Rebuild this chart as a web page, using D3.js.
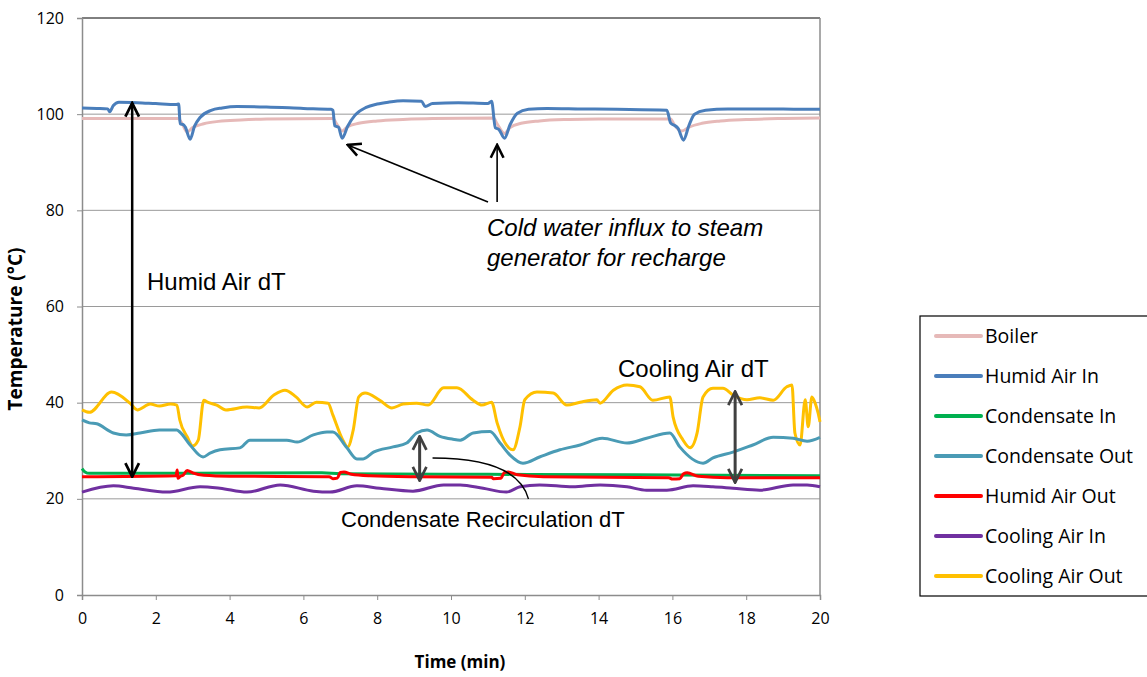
<!DOCTYPE html>
<html lang="en">
<head>
  <meta charset="UTF-8">
  <title>Temperature vs Time</title>
  <script src="https://cdn.jsdelivr.net/npm/d3@7.8.5/dist/d3.min.js"></script>
  <style>
    body { margin: 0; background: #fff; }
    svg { display: block; }
    .tick text { font-family: 'Open Sans', sans-serif; font-size: 16px; fill: #000; }
    .note { font-family: 'Liberation Sans', Arial, sans-serif; font-size: 24px; fill: #000; }
  </style>
</head>
<body>
  <svg id="chart" width="1147" height="677"></svg>
  <script>
    // series data: [time (min), temperature (°C)]
    const boiler = [[0,99.1],[2.6,99.1],[2.7,98.2],[2.85,96.3],[3.0,97.2],[3.3,98.0],[3.7,98.5],[4.3,98.8],[5,99],[6.8,99.1],[6.9,98],[7.05,96.5],[7.2,97.4],[7.5,98.1],[8,98.6],[8.7,98.9],[9.5,99.1],[11.15,99.2],[11.25,98],[11.45,96],[11.6,97.2],[11.9,98.1],[12.4,98.6],[13.2,98.9],[14,99],[15.95,99],[16.05,97.8],[16.25,96.5],[16.45,97.3],[16.8,98.1],[17.3,98.6],[18,98.9],[19,99.1],[20,99.2]];
    const humidIn = [[0,101.3],[0.4,101.2],[0.7,101.1],[0.75,100.5],[0.85,101.8],[1.0,102.5],[1.5,102.4],[2,102.2],[2.55,102],[2.62,102.1],[2.66,98],[2.75,97.8],[2.8,97.3],[2.93,94.8],[3.05,97.5],[3.2,99.3],[3.5,100.8],[3.8,101.3],[4.2,101.6],[5,101.5],[6,101.2],[6.75,101],[6.8,100.8],[6.85,97.6],[6.95,97.3],[7.05,95],[7.2,97.5],[7.4,99.8],[7.7,101.4],[8.0,102.1],[8.3,102.5],[8.7,102.8],[9.2,102.7],[9.3,101.6],[9.5,102.2],[10.2,102.4],[11,102.2],[11.1,102.7],[11.2,97.2],[11.3,96.8],[11.45,95],[11.6,97.8],[11.8,100.2],[12.1,101],[12.6,101.2],[13.5,101.1],[14.5,101],[15.85,100.8],[15.95,98.2],[16.05,97.7],[16.15,97.1],[16.3,94.6],[16.45,97.7],[16.6,100],[16.9,100.8],[17.5,101.1],[18.5,101.1],[19.5,101],[20,101]];
    const condIn = [[0,26.3],[0.08,25.6],[0.2,25.3],[3,25.3],[6.5,25.4],[7,25.2],[11,25.1],[15,25],[20,24.8]];
    const condOut = [[0,36.4],[0.2,35.8],[0.4,35.6],[0.85,33.7],[1.2,33.3],[1.57,33.7],[2.1,34.3],[2.57,34.3],[2.65,33.9],[2.93,31.2],[3.28,28.7],[3.47,29.5],[3.74,30.2],[4.28,30.6],[4.55,32.2],[5.0,32.2],[5.55,32.2],[5.83,31.8],[6.27,33.3],[6.64,33.9],[6.8,33.9],[7.18,30.6],[7.45,28.3],[7.62,28.3],[7.9,29.7],[8.43,30.8],[8.8,31.6],[9.07,33.7],[9.35,34.3],[9.7,33],[10.05,32.4],[10.25,32.2],[10.6,33.7],[11.06,34],[11.33,31.6],[11.6,29.1],[11.95,27.4],[12.4,28.7],[12.95,30.2],[13.5,31.2],[14.1,32.6],[14.77,31.6],[15.3,32.6],[15.93,33.7],[16.2,30.8],[16.83,27.4],[17.1,28.5],[17.64,29.7],[18.18,31.2],[18.73,32.8],[19.27,32.6],[19.65,32],[20,32.8]];
    const humidOut = [[0,24.6],[2.55,24.8],[2.58,26],[2.6,24.3],[2.65,24.6],[2.75,25],[2.85,25.9],[3.0,25.4],[3.3,24.9],[4,24.7],[6.7,24.6],[6.8,24.2],[6.92,24.3],[7.0,25.5],[7.1,25.6],[7.3,25.1],[7.8,24.8],[9,24.6],[11.1,24.5],[11.15,24.2],[11.35,24.3],[11.45,25.5],[11.55,25.6],[11.8,25],[12.5,24.6],[15.9,24.4],[16.0,24.1],[16.2,24.2],[16.3,25.2],[16.4,25.4],[16.7,24.7],[17.5,24.4],[20,24.4]];
    const coolIn = [[0,21.4],[0.85,22.7],[1.4,22.2],[2.3,21.4],[3.2,22.5],[3.74,22.2],[4.47,21.4],[5.37,22.9],[6.27,21.6],[6.72,21.4],[7.45,22.7],[8.07,22.2],[8.97,21.6],[9.8,22.9],[10.25,22.9],[10.87,22.2],[11.5,21.4],[11.87,22.5],[12.4,22.9],[13.3,22.5],[14.04,22.9],[14.77,22.5],[15.3,21.8],[15.85,21.8],[16.56,22.7],[17.1,22.5],[17.64,22.2],[18.37,21.8],[19.27,22.9],[19.65,22.9],[20,22.5]];
    const coolOut = [[0,38.5],[0.2,38],[0.8,42.2],[1.3,39.9],[1.5,38.5],[1.85,39.7],[2.1,39.3],[2.4,39.7],[2.57,39.5],[2.65,36.4],[2.85,32.9],[3.0,31],[3.15,32.2],[3.3,40.5],[3.4,40.1],[3.65,39.5],[3.9,38.5],[4.47,39.1],[4.8,38.9],[5.2,41.6],[5.5,42.6],[5.8,41.2],[6.1,39.1],[6.35,40.1],[6.67,39.9],[6.8,37.4],[7.07,32.2],[7.2,30.8],[7.35,34.3],[7.5,41.2],[7.67,42],[8.07,40.5],[8.4,38.9],[8.7,39.7],[9.07,39.9],[9.38,39.5],[9.8,43.1],[10.16,43.1],[10.6,40.5],[10.84,39.5],[11.1,40.1],[11.25,35.8],[11.5,31.2],[11.68,30.2],[11.87,35],[12.0,40.6],[12.33,42.2],[12.77,42],[13.14,39.5],[13.5,40.1],[13.95,40.6],[14.04,39.9],[14.4,42.6],[14.77,43.7],[15.12,43.3],[15.47,40.5],[15.93,41.2],[16.02,37],[16.29,32.2],[16.48,30.6],[16.67,33.7],[16.83,41.2],[17.1,43],[17.37,43],[17.64,41.6],[18.02,40.6],[18.37,41],[18.73,40.5],[19.1,43.3],[19.24,43.7],[19.32,33.7],[19.46,31.2],[19.6,40.6],[19.68,35],[19.78,41.2],[19.87,39.9],[19.95,37.8],[20,36]];

    const seriesNames = ["Boiler", "Humid Air In", "Condensate In", "Condensate Out", "Humid Air Out", "Cooling Air In", "Cooling Air Out"];
    const seriesData = [boiler, humidIn, condIn, condOut, humidOut, coolIn, coolOut];
    const seriesColors = ["#e6b9b8", "#4a7ebb", "#00b050", "#4a9bb5", "#ff0000", "#7030a0", "#ffc000"];
    const xTicks = [0, 2, 4, 6, 8, 10, 12, 14, 16, 18, 20];
    const yTicks = [0, 20, 40, 60, 80, 100, 120];

    const svg = d3.select("#chart");
    const pl = 82, pr = 820, pt = 18, pb = 595;

    const x = d3.scaleLinear().domain([0, 20]).range([pl, pr]);
    const y = d3.scaleLinear().domain([0, 120]).range([pb, pt]);

    // gridlines
    svg.append("g")
      .selectAll("line")
      .data(yTicks.filter(d => d > 0))
      .enter()
      .append("line")
      .attr("x1", pl).attr("x2", pr)
      .attr("y1", d => y(d)).attr("y2", d => y(d))
      .attr("stroke", d => d === 120 ? "#000" : "#9a9a9a")
      .attr("stroke-width", 1);
    svg.append("line")
      .attr("x1", pr).attr("x2", pr).attr("y1", pt).attr("y2", pb)
      .attr("stroke", "#8c8c8c").attr("stroke-width", 1.5);

    // axes
    const yAxis = svg.append("g")
      .attr("transform", `translate(${pl},0)`)
      .call(d3.axisLeft(y).tickValues(yTicks).tickSize(5).tickPadding(13));
    const xAxis = svg.append("g")
      .attr("transform", `translate(0,${pb})`)
      .call(d3.axisBottom(x).tickValues(xTicks).tickSize(5).tickPadding(13));
    [xAxis, yAxis].forEach(a => {
      a.select(".domain").attr("stroke", "#8c8c8c").attr("stroke-width", 1.5);
      a.selectAll(".tick line").attr("stroke", "#8c8c8c");
    });

    svg.append("text")
      .attr("transform", "translate(22,329) rotate(-90)")
      .attr("text-anchor", "middle")
      .attr("font-family", "'Open Sans', sans-serif")
      .attr("font-weight", "bold")
      .attr("font-size", 19)
      .text("Temperature (°C)");
    svg.append("text")
      .attr("x", 460).attr("y", 668)
      .attr("text-anchor", "middle")
      .attr("font-family", "'Open Sans', sans-serif")
      .attr("font-weight", "bold")
      .attr("font-size", 17)
      .text("Time (min)");

    // lines
    const line = d3.line().x(d => x(d[0])).y(d => y(d[1])).curve(d3.curveMonotoneX);
    const drawOrder = [0, 1, 6, 3, 2, 4, 5];
    svg.append("g")
      .selectAll("path")
      .data(drawOrder)
      .enter()
      .append("path")
      .attr("d", i => line(seriesData[i]))
      .attr("fill", "none")
      .attr("stroke", i => seriesColors[i])
      .attr("stroke-width", 3)
      .attr("stroke-linejoin", "round");

    // annotations
    const defs = svg.append("defs");
    function marker(id, color, size) {
      defs.append("marker")
        .attr("id", id)
        .attr("viewBox", "0 0 10 10")
        .attr("refX", 9).attr("refY", 5)
        .attr("markerWidth", size).attr("markerHeight", size)
        .attr("markerUnits", "userSpaceOnUse")
        .attr("orient", "auto-start-reverse")
        .append("path")
        .attr("d", "M1,1 L9,5 L1,9")
        .attr("fill", "none")
        .attr("stroke", color)
        .attr("stroke-width", 1.6);
    }
    marker("blk", "#000", 17);
    marker("gry", "#404040", 17);
    marker("thin", "#000", 16);

    function dblArrow(t, v0, v1, id, color, w) {
      svg.append("line")
        .attr("x1", x(t)).attr("x2", x(t))
        .attr("y1", y(v0)).attr("y2", y(v1))
        .attr("stroke", color).attr("stroke-width", w)
        .attr("marker-start", `url(#${id})`)
        .attr("marker-end", `url(#${id})`);
    }
    dblArrow(1.36, 102.3, 24.6, "blk", "#000", 2.5);
    dblArrow(17.7, 42.3, 23.4, "gry", "#404040", 3);
    dblArrow(9.15, 33.0, 23.8, "gry", "#404040", 3);

    // arrows to the recharge dips
    svg.append("line")
      .attr("x1", 488).attr("y1", 202).attr("x2", x(7.2)).attr("y2", y(93.6))
      .attr("stroke", "#000").attr("stroke-width", 1.6).attr("marker-end", "url(#thin)");
    svg.append("line")
      .attr("x1", x(11.25)).attr("y1", 202).attr("x2", x(11.25)).attr("y2", y(93.6))
      .attr("stroke", "#000").attr("stroke-width", 1.6).attr("marker-end", "url(#thin)");

    // leader line for condensate recirculation
    svg.append("path")
      .attr("d", `M${x(9.5)},458 Q${x(11.8)},458 ${x(12.1)},499`)
      .attr("fill", "none").attr("stroke", "#000").attr("stroke-width", 1.3);

    svg.append("text").attr("class", "note").attr("x", 147).attr("y", 290).text("Humid Air dT");
    svg.append("text").attr("class", "note").attr("x", 618).attr("y", 377).text("Cooling Air dT");
    svg.append("text").attr("class", "note").attr("x", 341).attr("y", 527)
      .style("font-size", "22px").text("Condensate Recirculation dT");
    const cold = svg.append("text").attr("class", "note").attr("font-style", "italic");
    cold.append("tspan").attr("x", 487).attr("y", 236).text("Cold water influx to steam");
    cold.append("tspan").attr("x", 487).attr("y", 266).text("generator for recharge");

    // legend
    const lg = svg.append("g").attr("transform", "translate(920,316)");
    lg.append("rect").attr("width", 240).attr("height", 280)
      .attr("fill", "#fff").attr("stroke", "#000").attr("stroke-width", 1.2);
    const item = lg.selectAll("g.item")
      .data(seriesNames)
      .enter()
      .append("g")
      .attr("transform", (d, i) => `translate(0,${20 + i * 40})`);
    item.append("line")
      .attr("x1", 16).attr("x2", 61)
      .attr("stroke", (d, i) => seriesColors[i])
      .attr("stroke-width", 4)
      .attr("stroke-linecap", "round");
    item.append("text")
      .attr("x", 65).attr("dy", "0.35em")
      .attr("font-family", "'Open Sans', sans-serif")
      .attr("font-size", 19.5)
      .text(d => d);
  </script>
</body>
</html>
